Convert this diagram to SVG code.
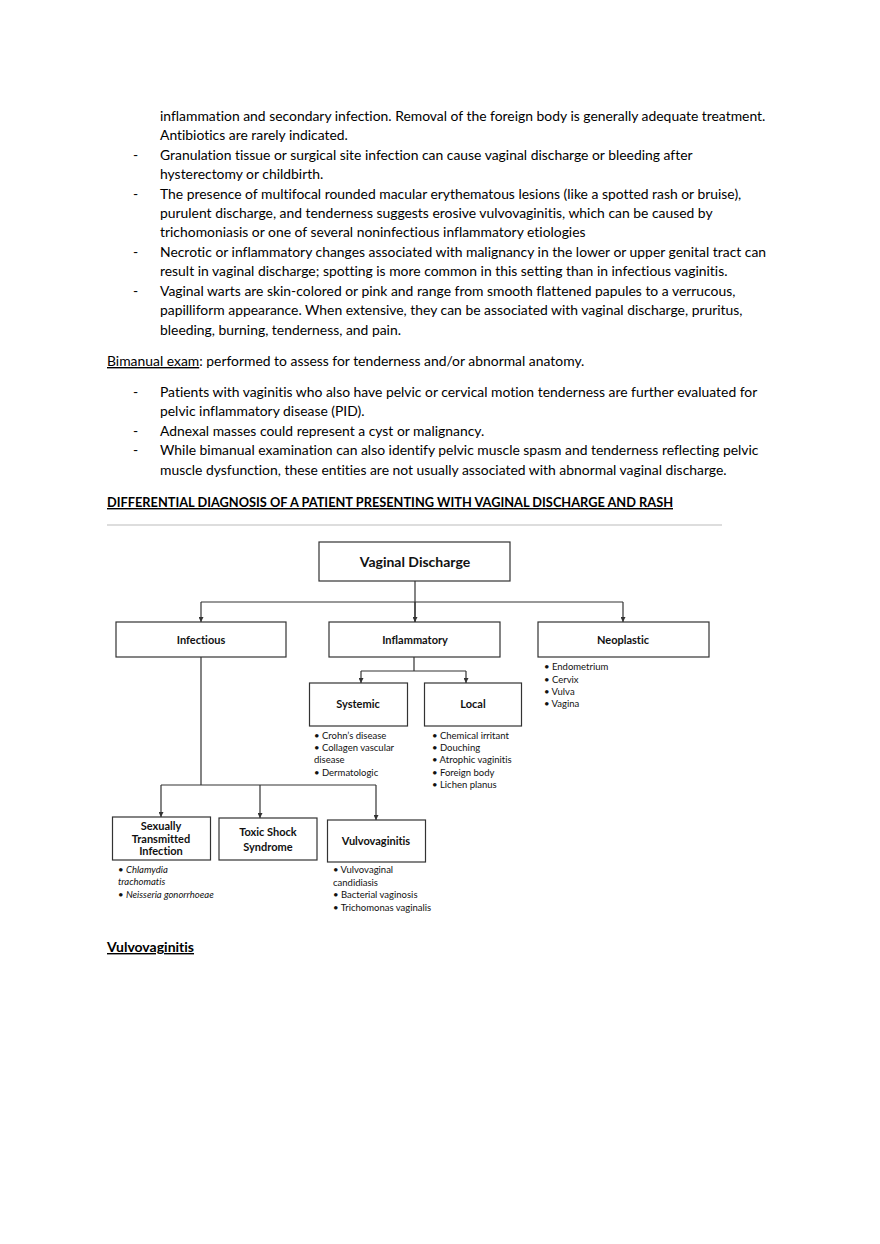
<svg xmlns="http://www.w3.org/2000/svg" width="880" height="1244" viewBox="0 0 880 1244">
<defs>
<marker id="arr" viewBox="0 0 8 8" refX="8" refY="4" markerWidth="5" markerHeight="5" orient="auto" markerUnits="userSpaceOnUse">
<path d="M0,0 L8,4 L0,8 z" fill="#333"/>
</marker>
<style>
text{font-variant-ligatures:none}
.b{font-family:Lato,"Liberation Sans",sans-serif;font-size:13.9px;fill:#000}
.hd{font-family:Lato,"Liberation Sans",sans-serif;font-size:14px;font-weight:bold;fill:#000;text-decoration:underline}
.box{fill:#fff;stroke:#333;stroke-width:1.2}
.bt{font-family:Lato,"Liberation Sans",sans-serif;font-weight:bold;font-size:11px;fill:#111;text-anchor:middle}
.li{font-family:Lato,"Liberation Sans",sans-serif;font-size:9.5px;fill:#111}
.con{fill:none;stroke:#333;stroke-width:1.2}
</style>
</defs>
<rect width="880" height="1244" fill="#fff"/>
<g id="body-text">
<text class="b" x="160" y="121">inflammation and secondary infection. Removal of the foreign body is generally adequate treatment.</text>
<text class="b" x="160" y="140">Antibiotics are rarely indicated.</text>
<text class="b" x="133" y="160">-</text>
<text class="b" x="160" y="160">Granulation tissue or surgical site infection can cause vaginal discharge or bleeding after</text>
<text class="b" x="160" y="179">hysterectomy or childbirth.</text>
<text class="b" x="133" y="199">-</text>
<text class="b" x="160" y="199">The presence of multifocal rounded macular erythematous lesions (like a spotted rash or bruise),</text>
<text class="b" x="160" y="218">purulent discharge, and tenderness suggests erosive vulvovaginitis, which can be caused by</text>
<text class="b" x="160" y="237">trichomoniasis or one of several noninfectious inflammatory etiologies</text>
<text class="b" x="133" y="257">-</text>
<text class="b" x="160" y="257">Necrotic or inflammatory changes associated with malignancy in the lower or upper genital tract can</text>
<text class="b" x="160" y="276">result in vaginal discharge; spotting is more common in this setting than in infectious vaginitis.</text>
<text class="b" x="133" y="296">-</text>
<text class="b" x="160" y="296">Vaginal warts are skin-colored or pink and range from smooth flattened papules to a verrucous,</text>
<text class="b" x="160" y="315">papilliform appearance. When extensive, they can be associated with vaginal discharge, pruritus,</text>
<text class="b" x="160" y="335">bleeding, burning, tenderness, and pain.</text>
<text class="b" x="107" y="366"><tspan text-decoration="underline">Bimanual exam</tspan>: performed to assess for tenderness and/or abnormal anatomy.</text>
<text class="b" x="133" y="397">-</text>
<text class="b" x="160" y="397">Patients with vaginitis who also have pelvic or cervical motion tenderness are further evaluated for</text>
<text class="b" x="160" y="416">pelvic inflammatory disease (PID).</text>
<text class="b" x="133" y="436">-</text>
<text class="b" x="160" y="436">Adnexal masses could represent a cyst or malignancy.</text>
<text class="b" x="133" y="455">-</text>
<text class="b" x="160" y="455">While bimanual examination can also identify pelvic muscle spasm and tenderness reflecting pelvic</text>
<text class="b" x="160" y="475">muscle dysfunction, these entities are not usually associated with abnormal vaginal discharge.</text>
<text class="hd" x="107" y="507" textLength="566" lengthAdjust="spacingAndGlyphs">DIFFERENTIAL DIAGNOSIS OF A PATIENT PRESENTING WITH VAGINAL DISCHARGE AND RASH</text>
<line x1="107" y1="525" x2="722" y2="525" stroke="#bbb" stroke-width="1"/>
<text class="hd" x="107" y="952">Vulvovaginitis</text>
</g>
<g id="connectors">
<path class="con" d="M415,581 V622"/>
<path class="con" d="M201,602 H623"/>
<path class="con" d="M201,602 V622" marker-end="url(#arr)"/>
<path class="con" d="M623,602 V622" marker-end="url(#arr)"/>
<path class="con" d="M415,602 V622" marker-end="url(#arr)"/>
<path class="con" d="M414,657 V671 M361,671 H466"/>
<path class="con" d="M361,671 V683" marker-end="url(#arr)"/>
<path class="con" d="M466,671 V683" marker-end="url(#arr)"/>
<path class="con" d="M201,657 V785 M161,785 H376"/>
<path class="con" d="M161,785 V817" marker-end="url(#arr)"/>
<path class="con" d="M260,785 V818" marker-end="url(#arr)"/>
<path class="con" d="M376,785 V820" marker-end="url(#arr)"/>
</g>
<g id="node-vaginal-discharge">
<rect class="box" x="319" y="542" width="191" height="39"/>
<text class="bt" x="415" y="567" style="font-size:14px">Vaginal Discharge</text>
</g>
<g id="node-infectious">
<rect class="box" x="116" y="622" width="170" height="35"/>
<text class="bt" x="201" y="644">Infectious</text>
</g>
<g id="node-inflammatory">
<rect class="box" x="329" y="622" width="171" height="35"/>
<text class="bt" x="415" y="644">Inflammatory</text>
</g>
<g id="node-neoplastic">
<rect class="box" x="538" y="622" width="171" height="35"/>
<text class="bt" x="623" y="644">Neoplastic</text>
<text class="li" x="544" y="670">• Endometrium</text>
<text class="li" x="544" y="683">• Cervix</text>
<text class="li" x="544" y="695">• Vulva</text>
<text class="li" x="544" y="707">• Vagina</text>
</g>
<g id="node-systemic">
<rect class="box" x="309.5" y="683" width="98" height="43"/>
<text class="bt" x="358" y="708">Systemic</text>
<text class="li" x="314" y="739">• Crohn’s disease</text>
<text class="li" x="314" y="751">• Collagen vascular</text>
<text class="li" x="314" y="763">disease</text>
<text class="li" x="314" y="776">• Dermatologic</text>
</g>
<g id="node-local">
<rect class="box" x="424.5" y="683" width="97" height="43"/>
<text class="bt" x="473" y="708">Local</text>
<text class="li" x="432" y="739">• Chemical irritant</text>
<text class="li" x="432" y="751">• Douching</text>
<text class="li" x="432" y="763">• Atrophic vaginitis</text>
<text class="li" x="432" y="776">• Foreign body</text>
<text class="li" x="432" y="788">• Lichen planus</text>
</g>
<g id="node-sti">
<rect class="box" x="112.5" y="817" width="98" height="43"/>
<text class="bt" x="161" y="830">Sexually</text>
<text class="bt" x="161" y="843">Transmitted</text>
<text class="bt" x="161" y="855">Infection</text>
<text class="li" x="118" y="873">• <tspan font-style="italic">Chlamydia</tspan></text>
<text class="li" x="118" y="885" font-style="italic">trachomatis</text>
<text class="li" x="118" y="898">• <tspan font-style="italic">Neisseria gonorrhoeae</tspan></text>
</g>
<g id="node-toxic-shock">
<rect class="box" x="219" y="818" width="98" height="42"/>
<text class="bt" x="268" y="836">Toxic Shock</text>
<text class="bt" x="268" y="851">Syndrome</text>
</g>
<g id="node-vulvovaginitis">
<rect class="box" x="327.5" y="820" width="98" height="42"/>
<text class="bt" x="376" y="845">Vulvovaginitis</text>
<text class="li" x="333" y="873">• Vulvovaginal</text>
<text class="li" x="333" y="886">candidiasis</text>
<text class="li" x="333" y="898">• Bacterial vaginosis</text>
<text class="li" x="333" y="911">• Trichomonas vaginalis</text>
</g>
</svg>
